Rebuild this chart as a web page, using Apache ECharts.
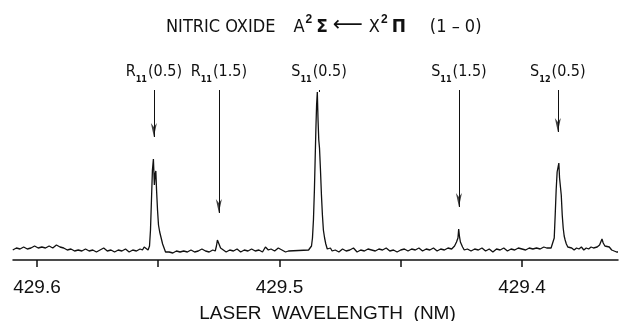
<!DOCTYPE html>
<html>
<head>
<meta charset="utf-8">
<script src="https://cdn.jsdelivr.net/npm/echarts@6/dist/echarts.min.js"></script>
<style>
  html, body { margin: 0; background: #fff; }
  #chart { width: 619px; height: 321px; }
</style>
</head>
<body>
<div id="chart"></div>
<script>
const INK = "#111";
const NARROW = "'Liberation Sans Narrow', 'DejaVu Sans Condensed', 'Liberation Sans', sans-serif";
const REGULAR = "'Liberation Sans', Arial, sans-serif";

// LIF trace: [wavelength nm, signal]
const spectrum = [
  [429.6100, 10], [429.6085, 12], [429.6070, 11], [429.6055, 13], [429.6040, 11],
  [429.6025, 12], [429.6010, 14], [429.5995, 12], [429.5980, 13], [429.5965, 12],
  [429.5950, 14], [429.5935, 12], [429.5920, 15], [429.5905, 13], [429.5890, 12],
  [429.5875, 10], [429.5860, 11], [429.5845, 9], [429.5830, 10], [429.5815, 9],
  [429.5800, 11], [429.5785, 9], [429.5770, 10], [429.5755, 8], [429.5740, 10],
  [429.5725, 12], [429.5710, 9], [429.5695, 10], [429.5680, 8], [429.5665, 10],
  [429.5650, 9], [429.5635, 11], [429.5620, 8], [429.5605, 10], [429.5590, 9],
  [429.5575, 11], [429.5565, 10], [429.5558, 13], [429.5550, 11], [429.5542, 10],
  [429.5536, 14], [429.5532, 30], [429.5528, 60], [429.5524, 90], [429.5520, 101],
  [429.5516, 75], [429.5513, 86], [429.5510, 89], [429.5507, 70], [429.5503, 50],
  [429.5499, 35], [429.5494, 28], [429.5488, 22], [429.5482, 16], [429.5476, 12],
  [429.5470, 8], [429.5464, 7], [429.5455, 8], [429.5440, 7], [429.5425, 9],
  [429.5410, 8], [429.5395, 9], [429.5380, 8], [429.5365, 10], [429.5350, 8],
  [429.5335, 9], [429.5320, 11], [429.5305, 9], [429.5290, 8], [429.5275, 10],
  [429.5265, 9], [429.5260, 14], [429.5256, 20], [429.5252, 18], [429.5248, 19],
  [429.5243, 12], [429.5235, 10], [429.5220, 8], [429.5205, 10], [429.5190, 9],
  [429.5175, 11], [429.5160, 8], [429.5145, 10], [429.5130, 9], [429.5115, 11],
  [429.5100, 9], [429.5085, 10], [429.5070, 8], [429.5058, 13], [429.5053, 15],
  [429.5046, 10], [429.5035, 11], [429.5020, 9], [429.5005, 12], [429.4990, 10],
  [429.4975, 8], [429.4963, 9], [429.4880, 10], [429.4874, 11], [429.4868, 14],
  [429.4864, 22], [429.4860, 40], [429.4856, 70], [429.4853, 100], [429.4850, 130],
  [429.4847, 155], [429.4844, 168], [429.4841, 140], [429.4838, 120], [429.4835, 112],
  [429.4831, 90], [429.4827, 65], [429.4823, 45], [429.4819, 30], [429.4814, 22],
  [429.4809, 16], [429.4803, 11], [429.4797, 9], [429.4790, 12], [429.4783, 9],
  [429.4770, 10], [429.4755, 8], [429.4740, 11], [429.4725, 9], [429.4710, 10],
  [429.4695, 12], [429.4680, 8], [429.4665, 10], [429.4650, 9], [429.4635, 11],
  [429.4620, 10], [429.4605, 9], [429.4590, 11], [429.4575, 10], [429.4560, 12],
  [429.4545, 9], [429.4530, 10], [429.4515, 8], [429.4500, 10], [429.4485, 11],
  [429.4470, 9], [429.4455, 11], [429.4440, 10], [429.4425, 12], [429.4410, 9],
  [429.4395, 11], [429.4380, 10], [429.4365, 12], [429.4350, 9], [429.4335, 11],
  [429.4320, 10], [429.4305, 12], [429.4290, 11], [429.4278, 14], [429.4270, 18],
  [429.4264, 22], [429.4261, 31], [429.4258, 24], [429.4254, 18], [429.4250, 17],
  [429.4245, 13], [429.4238, 10], [429.4225, 11], [429.4210, 9], [429.4195, 11],
  [429.4180, 10], [429.4165, 12], [429.4150, 9], [429.4135, 11], [429.4120, 8],
  [429.4105, 11], [429.4090, 10], [429.4075, 12], [429.4060, 9], [429.4045, 11],
  [429.4030, 10], [429.4015, 12], [429.4000, 11], [429.3985, 10], [429.3970, 12],
  [429.3955, 11], [429.3940, 12], [429.3925, 11], [429.3910, 13], [429.3898, 12],
  [429.3880, 12], [429.3872, 14], [429.3867, 22], [429.3863, 45], [429.3859, 70],
  [429.3855, 88], [429.3851, 90], [429.3848, 97], [429.3845, 82], [429.3842, 84],
  [429.3838, 65], [429.3834, 45], [429.3830, 32], [429.3826, 24], [429.3822, 20],
  [429.3817, 16], [429.3811, 13], [429.3805, 11], [429.3795, 12], [429.3785, 10],
  [429.3775, 12], [429.3765, 11], [429.3755, 13], [429.3745, 10], [429.3735, 12],
  [429.3725, 11], [429.3715, 13], [429.3705, 12], [429.3690, 13], [429.3680, 15],
  [429.3675, 18], [429.3670, 21], [429.3665, 17], [429.3658, 14], [429.3650, 12],
  [429.3640, 13], [429.3630, 10], [429.3620, 9], [429.3610, 8], [429.3604, 8]
];

// rotational line assignments
const lineLetter = ["R", "R", "S", "S", "S"];
const lineSub = ["11", "11", "11", "11", "12"];
const lineJ = ["(0.5)", "(1.5)", "(0.5)", "(1.5)", "(0.5)"];
const lineNm = [429.5518, 429.5250, 429.4837, 429.4260, 429.3852];
const arrowTip = [123, 47, 168, 53, 128];
const arrowTop = 170;
const labelLevel = 186;

const labelTicks = [429.4, 429.5, 429.6];
const allTicks = [429.4, 429.45, 429.5, 429.55, 429.6];

const chart = echarts.init(document.getElementById("chart"), null, { renderer: "canvas" });

const heads = lineNm
  .map((x, i) => [x, arrowTip[i]])
  .filter((d) => arrowTop - d[1] > 20);

const txt = (font, size, extra) => Object.assign(
  { fontFamily: font, fontSize: size, fontWeight: "normal", color: INK, opacity: 1 }, extra || {}
);

chart.setOption({
  animation: false,
  backgroundColor: "#fff",
  title: {
    left: 166,
    top: 14,
    padding: 0,
    text: "{t|NITRIC OXIDE}{a|A}{p|2}{g|Σ}{ar|⟵}{t|X}{p|2}{g|Π}{b|(1 – 0)}",
    textStyle: {
      fontWeight: "normal",
      rich: {
        t: txt(NARROW, 18, { verticalAlign: "bottom", lineHeight: 22 }),
        a: txt(NARROW, 18, { verticalAlign: "bottom", lineHeight: 22, padding: [0, 0, 0, 18] }),
        p: txt(REGULAR, 12, { fontWeight: "bold", verticalAlign: "top", lineHeight: 12, padding: [0, 4, 0, 1] }),
        g: txt("'DejaVu Sans', sans-serif", 17, { fontWeight: "bold", verticalAlign: "bottom", lineHeight: 22 }),
        ar: txt("'DejaVu Sans', sans-serif", 21, { verticalAlign: "bottom", lineHeight: 22, padding: [0, 6, 0, 5] }),
        b: txt(NARROW, 18, { verticalAlign: "bottom", lineHeight: 22, padding: [0, 0, 0, 24] })
      }
    }
  },
  grid: { left: 13, right: 1, top: 60, bottom: 61, outerBoundsMode: "none" },
  xAxis: {
    type: "value",
    inverse: true,
    min: 429.3604,
    max: 429.6099,
    splitLine: { show: false },
    axisLine: { lineStyle: { color: INK, width: 1.5 } },
    axisTick: { show: true, customValues: allTicks, length: 7, lineStyle: { color: INK, width: 1.5 } },
    axisLabel: {
      customValues: labelTicks,
      formatter: (v) => v.toFixed(1),
      fontFamily: REGULAR,
      fontSize: 19,
      color: INK,
      margin: 18
    },
    name: "LASER  WAVELENGTH  (NM)",
    nameLocation: "middle",
    nameGap: 44,
    nameTextStyle: { fontFamily: REGULAR, fontSize: 19, color: INK, padding: [0, 0, 0, 24] }
  },
  yAxis: { type: "value", min: 0, max: 200, show: false },
  series: [
    {
      type: "line",
      data: spectrum,
      showSymbol: false,
      lineStyle: { color: INK, width: 1.3 },
      silent: true,
      markLine: {
        silent: true,
        symbol: ["none", "none"],
        label: { show: false },
        lineStyle: { color: INK, width: 1, type: "solid" },
        data: lineNm.map((x, i) => [{ coord: [x, arrowTop] }, { coord: [x, arrowTip[i]] }])
      }
    },
    {
      type: "scatter",
      data: heads,
      symbol: "path://M0,0 L5,4 L10,0 L5,14 Z",
      symbolSize: [6, 14],
      symbolOffset: [0, "-50%"],
      itemStyle: { color: INK },
      silent: true
    },
    {
      type: "scatter",
      data: lineNm.map((x) => [x, labelLevel]),
      symbolSize: 0,
      itemStyle: { color: INK, opacity: 1 },
      silent: true,
      label: {
        show: true,
        position: "inside",
        color: INK,
        opacity: 1,
        textBorderWidth: 0,
        formatter: (p) => `{m|${lineLetter[p.dataIndex]}}{s|${lineSub[p.dataIndex]}}{m|${lineJ[p.dataIndex]}}`,
        rich: {
          m: txt(NARROW, 16, { lineHeight: 20, verticalAlign: "top", textBorderWidth: 0 }),
          s: txt(NARROW, 9, { fontWeight: "bold", lineHeight: 9, verticalAlign: "bottom", padding: [0, 1, 0, 0], textBorderWidth: 0 })
        }
      }
    }
  ]
});
</script>
</body>
</html>
